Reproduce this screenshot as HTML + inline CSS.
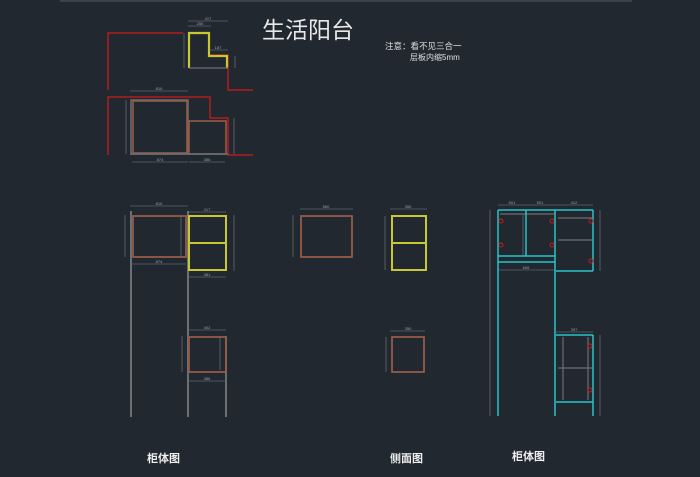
<!DOCTYPE html>
<html><head><meta charset="utf-8"><style>
html,body{margin:0;padding:0;background:#212830;}
svg{display:block;}
text{font-family:"Liberation Sans","Noto Sans CJK SC",sans-serif;}
</style></head><body>
<svg width="700" height="477" viewBox="0 0 700 477" xmlns="http://www.w3.org/2000/svg">
<rect width="700" height="477" fill="#212830"/>
<line x1="60" y1="1" x2="632" y2="1" stroke="#3a424c" stroke-width="2"/>

<g fill="none">
<polyline points="108,90 108,33 183,33" stroke="#d41a1a" stroke-width="1.2"/>
<polyline points="209,55 228,55 228,90 253,90" stroke="#d41a1a" stroke-width="1.2"/>
<polyline points="189,68 189,33 209,33 209,56 227,56 227,68" stroke="#c8c830" stroke-width="2.2"/>
<line x1="189" y1="68" x2="228" y2="68" stroke="#6b6f74" stroke-width="1.2"/>
<g stroke="#7b7f84" stroke-width="0.6">
<line x1="188" y1="21" x2="228" y2="21"/><line x1="188" y1="26" x2="211" y2="26"/>
<line x1="209" y1="50" x2="228" y2="50"/><line x1="184" y1="33" x2="184" y2="68"/><line x1="235" y1="56" x2="235" y2="68"/>
</g>
<polyline points="108,155 108,97 210,97 210,118 228,118 228,155 253,155" stroke="#d41a1a" stroke-width="1.2"/>
<rect x="131" y="100" width="57" height="54" stroke="#6b6f74" stroke-width="1.5"/>
<rect x="133" y="101" width="54" height="52" stroke="#955a48" stroke-width="1.6"/>
<rect x="189" y="121" width="37" height="33" stroke="#955a48" stroke-width="1.6"/>
<line x1="130" y1="154" x2="228" y2="154" stroke="#6b6f74" stroke-width="1.5"/>
<g stroke="#7b7f84" stroke-width="0.6">
<line x1="130" y1="91" x2="188" y2="91"/><line x1="132" y1="162" x2="188" y2="162"/><line x1="189" y1="162" x2="225" y2="162"/>
<line x1="126" y1="100" x2="126" y2="154"/><line x1="234" y1="118" x2="234" y2="154"/>
</g>
</g>
<g fill="#9aa0a6" font-size="4" text-anchor="middle">
<text x="208" y="20">417</text><text x="200" y="25">250</text><text x="218" y="49">187</text>
<text x="159" y="90">810</text><text x="160" y="161">874</text><text x="207" y="161">386</text>
</g>

<text x="262" y="38" fill="#e8e8e8" font-size="23">生活阳台</text>
<text x="385" y="49" fill="#e0e0e0" font-size="8.5">注意：看不见三合一</text>
<text x="410" y="60" fill="#e0e0e0" font-size="8">层板内缩5mm</text>

<g fill="none">
<g stroke="#6b6f74" stroke-width="2">
<line x1="131" y1="211" x2="131" y2="417"/><line x1="188" y1="211" x2="188" y2="417"/><line x1="226" y1="336" x2="226" y2="417"/>
</g>
<rect x="133" y="216" width="53" height="41" stroke="#955a48" stroke-width="1.8"/>
<rect x="189" y="216" width="37" height="54" stroke="#c8c830" stroke-width="2"/>
<line x1="189" y1="243" x2="226" y2="243" stroke="#c8c830" stroke-width="2"/>
<rect x="189" y="337" width="37" height="35" stroke="#955a48" stroke-width="1.8"/>
<rect x="301" y="216" width="51" height="41" stroke="#955a48" stroke-width="1.8"/>
<rect x="392" y="216" width="34" height="54" stroke="#c8c830" stroke-width="2"/>
<line x1="392" y1="243" x2="426" y2="243" stroke="#c8c830" stroke-width="2"/>
<rect x="392" y="337" width="32" height="35" stroke="#955a48" stroke-width="1.8"/>
<g stroke="#7b7f84" stroke-width="0.6">
<line x1="130" y1="206" x2="188" y2="206"/><line x1="132" y1="264" x2="186" y2="264"/><line x1="188" y1="212" x2="226" y2="212"/>
<line x1="188" y1="277" x2="226" y2="277"/><line x1="188" y1="330" x2="226" y2="330"/><line x1="189" y1="381" x2="225" y2="381"/>
<line x1="125" y1="215" x2="125" y2="257"/><line x1="181" y1="216" x2="181" y2="257"/><line x1="234" y1="215" x2="234" y2="271"/>
<line x1="182" y1="336" x2="182" y2="372"/><line x1="220" y1="337" x2="220" y2="370"/>
<line x1="300" y1="209" x2="353" y2="209"/><line x1="293" y1="215" x2="293" y2="257"/>
<line x1="390" y1="209" x2="427" y2="209"/><line x1="385" y1="216" x2="385" y2="270"/>
<line x1="390" y1="331" x2="425" y2="331"/><line x1="386" y1="337" x2="386" y2="372"/>
<line x1="498" y1="205" x2="593" y2="205"/><line x1="498" y1="270" x2="555" y2="270"/><line x1="556" y1="332" x2="593" y2="332"/>
<line x1="490" y1="210" x2="490" y2="416"/><line x1="600" y1="210" x2="600" y2="271"/><line x1="600" y1="335" x2="600" y2="416"/>
<line x1="523" y1="215" x2="523" y2="255"/>
</g>
<g stroke="#6b6f74" stroke-width="1.2">
<line x1="500" y1="214" x2="554" y2="214"/><line x1="558" y1="240" x2="592" y2="240"/><line x1="558" y1="218" x2="592" y2="218"/>
<line x1="558" y1="368" x2="592" y2="368"/><line x1="563" y1="337" x2="563" y2="400"/><line x1="588" y1="337" x2="588" y2="400"/>
</g>
<g stroke="#28c4c8" stroke-width="1.5">
<line x1="498" y1="210" x2="498" y2="416"/><line x1="555" y1="210" x2="555" y2="416"/>
<line x1="498" y1="210" x2="593" y2="210"/><line x1="593" y1="210" x2="593" y2="271"/><line x1="556" y1="271" x2="593" y2="271"/>
<line x1="526" y1="210" x2="526" y2="256"/><line x1="498" y1="256" x2="555" y2="256"/><line x1="498" y1="262" x2="555" y2="262"/>
<line x1="556" y1="335" x2="593" y2="335"/><line x1="593" y1="335" x2="593" y2="416"/><line x1="556" y1="402" x2="593" y2="402"/>
</g>
<g stroke="#d41a1a" stroke-width="0.9">
<circle cx="501" cy="221" r="2"/><circle cx="501" cy="245" r="2"/><circle cx="552" cy="221" r="2"/><circle cx="552" cy="245" r="2"/>
<circle cx="591" cy="221" r="2"/><circle cx="591" cy="261" r="2"/><circle cx="590" cy="346" r="2"/><circle cx="590" cy="390" r="2"/>
</g>
</g>
<g fill="#9aa0a6" font-size="4" text-anchor="middle">
<text x="159" y="205">810</text><text x="159" y="263">874</text><text x="207" y="211">417</text><text x="207" y="276">381</text>
<text x="207" y="329">402</text><text x="207" y="380">386</text><text x="326" y="208">560</text><text x="408" y="208">350</text>
<text x="408" y="330">350</text><text x="512" y="204">501</text><text x="540" y="204">501</text><text x="574" y="204">412</text>
<text x="526" y="269">606</text><text x="574" y="331">397</text>
</g>

<g fill="#f0f0f0" font-size="11" font-weight="bold" font-family="'Noto Serif CJK SC',serif">
<text x="147" y="462">柜体图</text><text x="390" y="462">侧面图</text><text x="512" y="460">柜体图</text>
</g>
</svg>
</body></html>
